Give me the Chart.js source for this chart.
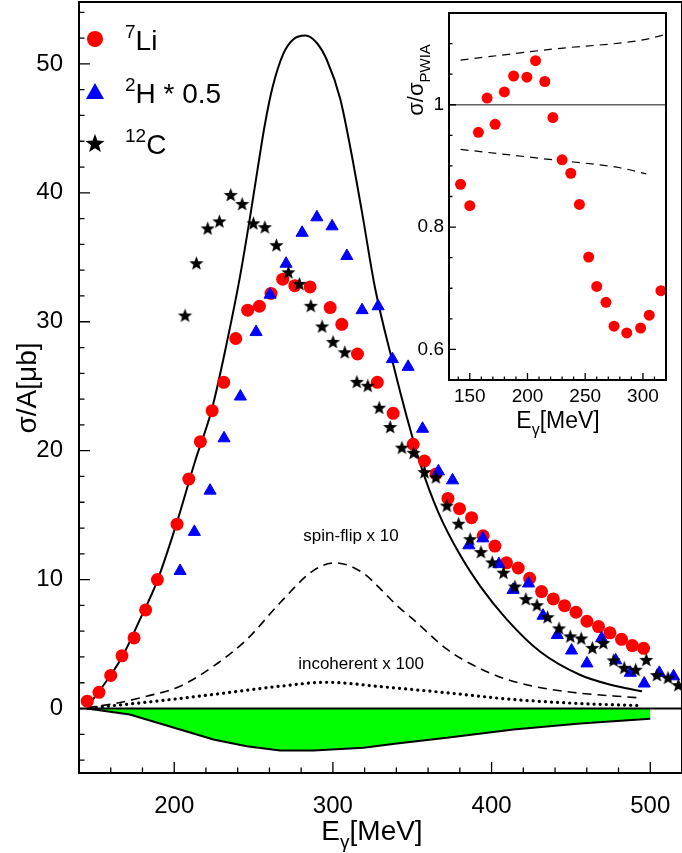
<!DOCTYPE html>
<html>
<head>
<meta charset="utf-8">
<script src="https://cdn.jsdelivr.net/npm/chart.js@4/dist/chart.umd.min.js"></script>
<style>
  body { margin: 0; background: #fff; }
  #wrap { position: relative; width: 682px; height: 853px; overflow: hidden; }
  #main { position: absolute; left: 0; top: -6px; }
  #inset { position: absolute; left: 395px; top: 0; }
</style>
</head>
<body>
<div id="wrap">
  <canvas id="main" width="690" height="859"></canvas>
  <canvas id="inset" width="285" height="445"></canvas>
</div>
<script>
/** Daten: 7Li */
var liE = [145.2, 152.6, 160, 167.1, 174.7, 182, 189.4, 201.8, 209.2, 216.5, 223.9, 231.2, 238.8, 246.3, 253.7, 261, 268.4, 276, 285.6, 298.3, 305.6, 315.5, 328, 338, 350.6, 357.7, 365, 372.5, 379.8, 387.4, 394.7, 402.1, 409.4, 416.8, 424, 431.5, 438.9, 446, 453.2, 460.1, 467.4, 474.6, 481.9, 488.7, 495.8];
var liS = [0.57, 1.26, 2.57, 4.09, 5.48, 7.65, 10.0, 14.3, 17.8, 20.7, 23.1, 25.3, 28.7, 30.9, 31.2, 32.2, 33.3, 32.8, 32.7, 31.1, 29.8, 27.5, 25.3, 22.9, 20.5, 19.2, 18.2, 16.3, 15.5, 14.8, 13.4, 12.6, 11.3, 10.9, 10.1, 9.07, 8.5, 7.98, 7.47, 6.77, 6.36, 5.87, 5.37, 4.88, 4.67];

/** Daten: 2H * 0.5 */
var hE = [203.7, 212.7, 222.6, 231.4, 241.7, 251.6, 260.4, 270.5, 280.6, 289.9, 299.5, 308.8, 318.4, 328.5, 337.5, 347.4, 356.5, 366.5, 375.4, 385.7, 394.5, 404.6, 413.5, 423.3, 432.4, 441.4, 450.4, 460.1, 469.3, 478.2, 487.4, 496.2, 505.7, 514.7];
var hS = [10.67, 13.7, 16.9, 20.96, 24.2, 29.2, 32.1, 34.5, 36.9, 38.1, 37.4, 35.1, 30.9, 31.2, 27.1, 26.5, 21.7, 18.4, 17.7, 12.66, 13.2, 11.2, 9.2, 9.7, 7.2, 5.7, 4.5, 3.5, 5.45, 3.74, 2.77, 1.94, 2.77, 2.5];

/** Daten: 12C */
var cE = [206.8, 214, 221.1, 228.5, 235.6, 242.8, 249.9, 257.1, 264.4, 272, 278.9, 286.1, 293.2, 300.1, 307.5, 315.1, 322, 329.2, 336.1, 343.5, 350.8, 357.7, 364.9, 371.8, 379.2, 386.5, 393.3, 400.4, 407.5, 414.7, 421.6, 428.6, 435.3, 442.5, 449.6, 456.5, 463.5, 470.4, 476.9, 483.6, 490.8, 497.5, 504.2, 511.2, 517.7];
var cS = [30.45, 34.5, 37.2, 37.75, 39.8, 39.1, 37.6, 37.3, 35.9, 33.8, 32.9, 31.2, 29.6, 28.4, 27.6, 25.3, 25.0, 23.3, 21.8, 20.2, 19.8, 18.3, 17.9, 15.7, 14.3, 13.1, 12.1, 11.3, 10.5, 9.43, 8.45, 7.98, 7.05, 6.18, 5.56, 5.4, 4.67, 5.04, 3.7, 3.12, 2.97, 3.74, 2.56, 2.35, 1.78];

/** Kurven */
var pwiaE = [145, 156, 167.6, 178, 189, 201.6, 213.2, 223.7, 233.2, 241.6, 247.9, 252.5, 257, 262, 268.8, 275, 282.7, 290, 296.2, 304.6, 311, 318.2, 326.6, 338.2, 346.6, 355, 366.5, 380.2, 392.8, 409.7, 430.7, 455.9, 475, 494.8];
var pwiaS = [0.1, 1.9, 4.1, 6.8, 9.8, 14.4, 19.2, 23.2, 28.4, 33.6, 38.2, 41.8, 45.2, 48.2, 50.8, 51.9, 52.2, 51.6, 50.3, 47.3, 43.5, 38.6, 32.6, 26.6, 22.6, 19.0, 15.2, 11.9, 9.5, 6.9, 4.4, 2.6, 1.85, 1.34];
var spinE = [144.9, 165, 182.7, 203.7, 224.7, 245.7, 266.7, 287.7, 301.4, 319.2, 329.8, 340.3, 350.8, 371.8, 392.8, 413.8, 445.4, 492.6];
var spinS = [0.05, 0.45, 0.95, 1.73, 3.28, 5.35, 8.2, 10.7, 11.3, 10.5, 9.3, 8.0, 6.9, 4.6, 3.1, 2.1, 1.34, 0.83];
var incE = [147, 182.7, 224.7, 266.7, 296.2, 329.8, 371.8, 413.8, 455.9, 493.9];
var incS = [0.05, 0.49, 1.09, 1.73, 2.04, 1.7, 1.22, 0.7, 0.39, 0.23];
var negE = [145, 172, 203.7, 224.7, 245.7, 266.7, 287.7, 319.2, 340.3, 371.8, 413.8, 455.9, 500];
var negS = [0, -0.47, -1.63, -2.4, -2.92, -3.26, -3.26, -3.05, -2.71, -2.27, -1.63, -1.16, -0.8];

/** Inset: sigma / sigma_PWIA */
var rE = [142, 150, 157.5, 165, 172, 180, 188, 199.5, 207, 215, 222, 230, 237.5, 245, 253, 260, 268, 275, 286, 298, 305.5, 315.6];
var rR = [0.870, 0.835, 0.955, 1.011, 0.968, 1.021, 1.047, 1.045, 1.072, 1.038, 0.979, 0.910, 0.888, 0.837, 0.751, 0.703, 0.677, 0.638, 0.627, 0.635, 0.656, 0.696];
var upE = [142, 222, 300, 320];
var upR = [1.073, 1.091, 1.106, 1.115];
var loE = [142, 222, 280, 303];
var loR = [0.927, 0.910, 0.897, 0.887];

var mainXTicks = [200, 300, 400, 500];
var mainYTicks = [0, 10, 20, 30, 40, 50];
var insetXTicks = [150, 200, 250, 300];
var insetYTicks = [0.6, 0.8, 1];

var FONT = "'Liberation Sans', Arial, sans-serif";

function pts(xs, ys) {
  return xs.map(function (x, i) { return { x: x, y: ys[i] }; });
}

/** Stern-Symbol */
function makeStar(r) {
  var c = document.createElement('canvas');
  c.width = c.height = Math.ceil(r * 2 + 2);
  var g = c.getContext('2d');
  g.translate(c.width / 2, c.height / 2);
  g.beginPath();
  for (var i = 0; i < 10; i++) {
    var rr = i % 2 === 0 ? r : r * 0.42;
    var a = -Math.PI / 2 + i * Math.PI / 5;
    g.lineTo(rr * Math.cos(a), rr * Math.sin(a));
  }
  g.closePath();
  g.fillStyle = '#000';
  g.fill();
  return c;
}
var star = makeStar(7.5);
var starLegend = makeStar(10);

/** Ticks, Beschriftung, Rahmen */
function frameTicks(cfg) {
  return {
    id: 'frameTicks',
    afterDatasetsDraw: function (chart) {
      var ctx = chart.ctx, a = chart.chartArea;
      var xs = chart.scales.x, ys = chart.scales.y;
      ctx.save();
      ctx.strokeStyle = '#000';
      ctx.lineWidth = 1.3;
      ctx.beginPath();
      for (var v = cfg.xMin; v <= xs.max + 1e-9; v += cfg.xMinor) {
        var px = xs.getPixelForValue(v);
        var major = Math.abs(v / cfg.xMajor - Math.round(v / cfg.xMajor)) < 1e-6;
        ctx.moveTo(px, a.bottom);
        ctx.lineTo(px, a.bottom - (major ? cfg.len : cfg.len / 2));
      }
      for (var w = cfg.yMin; w <= ys.max + 1e-9; w += cfg.yMinor) {
        var py = ys.getPixelForValue(w);
        var maj = Math.abs(w / cfg.yMajor - Math.round(w / cfg.yMajor)) < 1e-6;
        ctx.moveTo(a.left, py);
        ctx.lineTo(a.left + (maj ? cfg.len : cfg.len / 2), py);
      }
      ctx.stroke();
      ctx.lineWidth = 2;
      ctx.strokeRect(a.left, a.top, a.right - a.left, a.bottom - a.top);
      ctx.fillStyle = '#000';
      ctx.font = cfg.size + 'px ' + FONT;
      ctx.textAlign = 'center';
      ctx.textBaseline = 'middle';
      cfg.xTicks.forEach(function (t) {
        ctx.fillText(String(t), xs.getPixelForValue(t), a.bottom + cfg.xOff);
      });
      ctx.textAlign = 'right';
      cfg.yTicks.forEach(function (t) {
        ctx.fillText(String(t), a.left - cfg.yOff, ys.getPixelForValue(t));
      });
      ctx.restore();
    }
  };
}

function subText(ctx, parts, x, y, size, align) {
  var w = 0;
  parts.forEach(function (p) {
    ctx.font = (p[1] === 'n' ? size : Math.round(size * 0.68)) + 'px ' + FONT;
    w += ctx.measureText(p[0]).width;
  });
  var cx = align === 'center' ? x - w / 2 : x;
  parts.forEach(function (p) {
    var s = p[1] === 'n' ? size : Math.round(size * 0.68);
    ctx.font = s + 'px ' + FONT;
    var dy = p[1] === 'sub' ? size * 0.3 : (p[1] === 'sup' ? -size * 0.42 : 0);
    ctx.textAlign = 'left';
    ctx.fillText(p[0], cx, y + dy);
    cx += ctx.measureText(p[0]).width;
  });
}

var mainLabels = {
  id: 'mainLabels',
  afterDraw: function (chart) {
    var ctx = chart.ctx;
    ctx.save();
    ctx.translate(0, 6); // Canvas liegt 6px hoeher
    ctx.fillStyle = '#000';
    ctx.textBaseline = 'alphabetic';
    subText(ctx, [['E', 'n'], ['γ', 'sub'], ['[MeV]', 'n']], 372, 840, 28, 'center');
    ctx.save();
    ctx.translate(36, 388);
    ctx.rotate(-Math.PI / 2);
    subText(ctx, [['σ/A[μb]', 'n']], 0, 0, 28, 'center');
    ctx.restore();
    // Legende
    ctx.fillStyle = '#ff0000';
    ctx.beginPath(); ctx.arc(95, 39, 8, 0, 2 * Math.PI); ctx.fill();
    ctx.fillStyle = '#0000ff';
    ctx.beginPath(); ctx.moveTo(95, 83); ctx.lineTo(104, 99); ctx.lineTo(86, 99); ctx.closePath(); ctx.fill();
    ctx.drawImage(starLegend, 95 - starLegend.width / 2, 144 - starLegend.height / 2);
    ctx.fillStyle = '#000';
    subText(ctx, [['7', 'sup'], ['Li', 'n']], 125, 50, 28, 'left');
    subText(ctx, [['2', 'sup'], ['H * 0.5', 'n']], 125, 103, 28, 'left');
    subText(ctx, [['12', 'sup'], ['C', 'n']], 125, 154, 28, 'left');
    subText(ctx, [['spin-flip x 10', 'n']], 351, 541, 17, 'center');
    subText(ctx, [['incoherent x 100', 'n']], 361, 669, 17, 'center');
    ctx.restore();
  }
};

var insetLabels = {
  id: 'insetLabels',
  afterDraw: function (chart) {
    var ctx = chart.ctx;
    ctx.save();
    ctx.fillStyle = '#000';
    subText(ctx, [['E', 'n'], ['γ', 'sub'], ['[MeV]', 'n']], 163, 428, 23, 'center');
    ctx.translate(28, 80);
    ctx.rotate(-Math.PI / 2);
    subText(ctx, [['σ/σ', 'n'], ['PWIA', 'sub']], 0, 0, 22, 'center');
    ctx.restore();
  }
};

function baseScales(xr, yr, xh, yw) {
  return {
    x: { type: 'linear', min: xr[0], max: xr[1], grid: { display: false }, border: { display: false },
         ticks: { display: false }, afterFit: function (s) { s.height = xh; } },
    y: { type: 'linear', min: yr[0], max: yr[1], grid: { display: false }, border: { display: false },
         ticks: { display: false }, afterFit: function (s) { s.width = yw; } }
  };
}

/** Hauptdiagramm */
new Chart(document.getElementById('main').getContext('2d'), {
  type: 'scatter',
  data: {
    datasets: [
      { data: pts(cE, cS), pointStyle: star, order: 1 },
      { data: pts(hE, hS), pointStyle: 'triangle', pointRadius: 7, backgroundColor: '#0000ff', borderColor: '#0000ff', order: 2 },
      { data: pts(liE, liS), pointStyle: 'circle', pointRadius: 6.5, backgroundColor: '#ff0000', borderColor: '#ff0000', borderWidth: 0, order: 3 },
      { data: pts(pwiaE, pwiaS), showLine: true, pointRadius: 0, borderColor: '#000', borderWidth: 2, cubicInterpolationMode: 'monotone', order: 4 },
      { data: pts(spinE, spinS), showLine: true, pointRadius: 0, borderColor: '#000', borderWidth: 1.6, borderDash: [9, 6], cubicInterpolationMode: 'monotone', order: 5 },
      { data: pts(incE, incS), showLine: true, pointRadius: 0, borderColor: '#000', borderWidth: 3.2, borderDash: [0.1, 6], borderCapStyle: 'round', cubicInterpolationMode: 'monotone', order: 6 },
      { data: pts(negE, negS), showLine: true, pointRadius: 0, borderColor: '#000', borderWidth: 2, backgroundColor: '#00ff00', fill: { value: 0 }, order: 8 },
      { data: pts([140, 520], [0, 0]), showLine: true, pointRadius: 0, borderColor: '#000', borderWidth: 2, order: 7 }
    ]
  },
  options: {
    responsive: false,
    animation: false,
    layout: { padding: { top: 2, right: 1, left: 0, bottom: 0 } },
    plugins: { legend: { display: false }, tooltip: { enabled: false } },
    scales: baseScales([140, 520], [-5, 54.8], 80, 79)
  },
  plugins: [frameTicks({ xMin: 140, xMinor: 20, xMajor: 100, yMin: -4, yMinor: 2, yMajor: 10, len: 11,
    xTicks: mainXTicks, yTicks: mainYTicks, size: 24, xOff: 33, yOff: 16 }), mainLabels]
});

/** Inset */
new Chart(document.getElementById('inset').getContext('2d'), {
  type: 'scatter',
  data: {
    datasets: [
      { data: pts(rE, rR), pointStyle: 'circle', pointRadius: 5.5, backgroundColor: '#ff0000', borderWidth: 0 },
      { data: pts(upE, upR), showLine: true, pointRadius: 0, borderColor: '#000', borderWidth: 1.2, borderDash: [8, 6], cubicInterpolationMode: 'monotone' },
      { data: pts(loE, loR), showLine: true, pointRadius: 0, borderColor: '#000', borderWidth: 1.2, borderDash: [8, 6], cubicInterpolationMode: 'monotone' },
      { data: pts([132, 320], [1, 1]), showLine: true, pointRadius: 0, borderColor: '#666', borderWidth: 1.6 }
    ]
  },
  options: {
    responsive: false,
    animation: false,
    layout: { padding: { top: 13, right: 14, left: 0, bottom: 0 } },
    plugins: { legend: { display: false }, tooltip: { enabled: false } },
    scales: baseScales([132, 320], [0.55, 1.15], 65, 54)
  },
  plugins: [frameTicks({ xMin: 140, xMinor: 10, xMajor: 50, yMin: 0.55, yMinor: 0.05, yMajor: 0.2, len: 7,
    xTicks: insetXTicks, yTicks: insetYTicks, size: 19, xOff: 17, yOff: 5 }), insetLabels]
});
</script>
</body>
</html>
